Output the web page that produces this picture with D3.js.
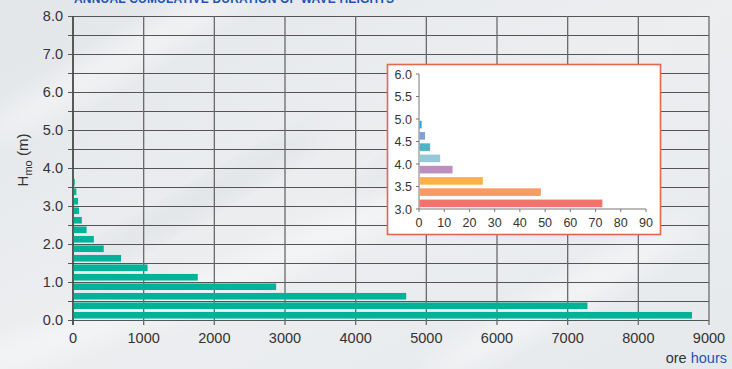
<!DOCTYPE html>
<html><head><meta charset="utf-8">
<script src="https://cdn.jsdelivr.net/npm/d3@7"></script>
<style>
html,body{margin:0;padding:0;background:#e8ebee;}
svg{display:block;font-family:"Liberation Sans",Arial,sans-serif;}
</style></head><body>
<svg id="c" width="732" height="369"></svg>
<script>
// ---- data ----
const title = "ANNUAL CUMULATIVE DURATION OF WAVE HEIGHTS";
const binStart = [0.0,0.25,0.5,0.75,1.0,1.25,1.5,1.75,2.0,2.25,2.5,2.75,3.0,3.25,3.5,3.75,4.0,4.25,4.5,4.75];
const hours    = [8760,7280,4715,2875,1765,1055,680,435,295,192,125,85,72,48,25,13,8.5,4.4,2.4,1.0];
const yTicks = [0,1,2,3,4,5,6,7,8];
const xTicks = [0,1000,2000,3000,4000,5000,6000,7000,8000,9000];
const insetStart = [3.0,3.25,3.5,3.75,4.0,4.25,4.5,4.75];
const insetHours = [72.7,48.3,25.3,13.3,8.4,4.4,2.4,1.05];
const insetColors = ["#f2716b","#f89a62","#fbb04b","#bd8fc1","#93c9d9","#52b1c7","#809fd5","#29a6e0"];
const insetYTicks = [3.0,3.5,4.0,4.5,5.0,5.5,6.0];
const insetXTicks = [0,10,20,30,40,50,60,70,80,90];

const svg = d3.select("#c");
const defs = svg.append("defs");
const bg = defs.append("linearGradient").attr("id","bg").attr("x1","0").attr("y1","0").attr("x2","1").attr("y2","1");
bg.append("stop").attr("offset","0").attr("stop-color","#e3e6e9");
bg.append("stop").attr("offset","0.5").attr("stop-color","#eceef0");
bg.append("stop").attr("offset","1").attr("stop-color","#e6e9ec");
svg.append("rect").attr("width",732).attr("height",369).attr("fill","url(#bg)");
const blur = defs.append("filter").attr("id","bl").attr("x","-50%").attr("y","-50%").attr("width","200%").attr("height","200%");
blur.append("feGaussianBlur").attr("stdDeviation",12);
// soft streaks
[[120,60,-30,0.5],[300,250,-25,0.45],[560,300,-30,0.5],[80,330,-20,0.4]].forEach(s=>{
  svg.append("ellipse").attr("cx",s[0]).attr("cy",s[1]).attr("rx",160).attr("ry",14)
    .attr("transform",`rotate(${s[2]},${s[0]},${s[1]})`).attr("fill","#ffffff").attr("opacity",s[3]).attr("filter","url(#bl)");
});
[[200,200,-30],[470,130,-28]].forEach(s=>{
  svg.append("ellipse").attr("cx",s[0]).attr("cy",s[1]).attr("rx",140).attr("ry",10)
    .attr("transform",`rotate(${s[2]},${s[0]},${s[1]})`).attr("fill","#c9ced3").attr("opacity",0.35).attr("filter","url(#bl)");
});

// title (cropped at the top edge, as in the reference)
svg.append("text").attr("x",74).attr("y",3).attr("fill","#1f55b5").attr("font-weight","bold")
  .attr("font-size",12).attr("letter-spacing",0.2).text(title);

// ---- main chart ----
const x = d3.scaleLinear().domain([0,9000]).range([73,709]);
const y = d3.scaleLinear().domain([0,8]).range([320,16]);
const g = svg.append("g");
const halfTicks = d3.range(0,8.01,0.5);
g.selectAll("line.hg").data(halfTicks).join("line").attr("class","hg")
  .attr("x1",x(0)-5).attr("x2",x(9000)).attr("y1",d=>y(d)).attr("y2",d=>y(d))
  .attr("stroke","#555").attr("stroke-width",1).attr("shape-rendering","crispEdges");
g.selectAll("line.vg").data(xTicks).join("line").attr("class","vg")
  .attr("x1",d=>x(d)).attr("x2",d=>x(d)).attr("y1",y(8)).attr("y2",y(0)+5)
  .attr("stroke","#6a6a6a").attr("stroke-width",1.3);
g.append("line").attr("x1",x(0)).attr("x2",x(0)).attr("y1",y(8)).attr("y2",y(0)+5).attr("stroke","#444").attr("stroke-width",1.5);

const bh = 6.6;
g.selectAll("rect.bar").data(binStart).join("rect").attr("class","bar")
  .attr("x",x(0)+0.75).attr("y",(d)=>y(d+0.125)-bh/2).attr("height",bh)
  .attr("width",(d,i)=>Math.max(0,x(hours[i])-x(0)-0.75)).attr("fill","#00b398");

g.selectAll("text.yl").data(yTicks).join("text").attr("class","yl")
  .attr("x",63).attr("y",d=>y(d)+5).attr("text-anchor","end").attr("font-size",14.5).attr("fill","#333")
  .text(d=>d3.format(".1f")(d));
g.selectAll("text.xl").data(xTicks).join("text").attr("class","xl")
  .attr("x",d=>x(d)).attr("y",343).attr("text-anchor","middle").attr("font-size",14.5).attr("fill","#333")
  .text(d=>d);
const yt = svg.append("text").attr("transform","translate(28,160) rotate(-90)").attr("text-anchor","middle")
  .attr("font-size",15).attr("fill","#333");
yt.append("tspan").text("H");
yt.append("tspan").attr("font-size",11).attr("dy",4).text("mo");
yt.append("tspan").attr("dy",-4).text(" (m)");
const ut = svg.append("text").attr("x",727).attr("y",363).attr("text-anchor","end").attr("font-size",14.5);
ut.append("tspan").attr("fill","#333").text("ore ");
ut.append("tspan").attr("fill","#1f55b5").text("hours");

// ---- inset ----
svg.append("rect").attr("x",387.5).attr("y",64.5).attr("width",273).attr("height",170)
  .attr("fill","#ffffff").attr("stroke","#e4664b").attr("stroke-width",1.6);
const ix = d3.scaleLinear().domain([0,90]).range([419,646]);
const iy = d3.scaleLinear().domain([3,6]).range([209,74]);
const ig = svg.append("g");
ig.append("line").attr("x1",ix(0)).attr("x2",ix(0)).attr("y1",iy(6)).attr("y2",iy(3)).attr("stroke","#777");
ig.append("line").attr("x1",ix(0)).attr("x2",ix(90)).attr("y1",iy(3)).attr("y2",iy(3)).attr("stroke","#777");
ig.selectAll("line.iyt").data(insetYTicks).join("line").attr("class","iyt")
  .attr("x1",ix(0)-3).attr("x2",ix(0)).attr("y1",d=>iy(d)).attr("y2",d=>iy(d)).attr("stroke","#777");
ig.selectAll("line.ixt").data(insetXTicks).join("line").attr("class","ixt")
  .attr("x1",d=>ix(d)).attr("x2",d=>ix(d)).attr("y1",iy(3)).attr("y2",iy(3)+3).attr("stroke","#777");
const ibh = 7.6;
ig.selectAll("rect.ib").data(insetStart).join("rect").attr("class","ib")
  .attr("x",ix(0)+0.5).attr("y",d=>iy(d+0.125)-ibh/2).attr("height",ibh)
  .attr("width",(d,i)=>ix(insetHours[i])-ix(0)-0.5).attr("fill",(d,i)=>insetColors[i]);
ig.selectAll("text.iyl").data(insetYTicks).join("text").attr("class","iyl")
  .attr("x",412).attr("y",d=>iy(d)+4.5).attr("text-anchor","end").attr("font-size",12.5).attr("fill","#333")
  .text(d=>d3.format(".1f")(d));
ig.selectAll("text.ixl").data(insetXTicks).join("text").attr("class","ixl")
  .attr("x",d=>ix(d)).attr("y",227).attr("text-anchor","middle").attr("font-size",12.5).attr("fill","#333")
  .text(d=>d);
</script>
</body></html>
